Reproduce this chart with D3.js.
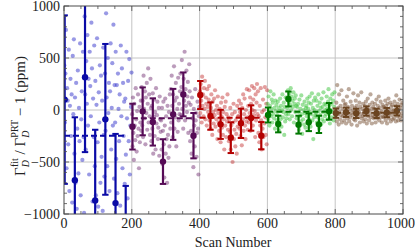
<!DOCTYPE html>
<html><head><meta charset="utf-8">
<script src="https://cdn.jsdelivr.net/npm/d3@7"></script>
<style>body{margin:0;background:#fff}svg{display:block}
text{font-family:"Liberation Serif","Times New Roman",Tinos,"DejaVu Serif",serif;}</style>
</head><body>
<script>
// ---------- data ----------
const groupStarts = [0, 200, 400, 600, 800];
const binOffsets = [2, 32, 62, 92, 122, 152, 182];
const xTicks = [0, 200, 400, 600, 800, 1000];
const yTicks = [-1000, -500, 0, 500, 1000];

const blueScatter = [430,-120,350,770,-560,210,90,-330,580,-780,40,300,-250,150,-890,520,-40,680,
 -420,120,-700,260,-950,-180,380,-610,20,-300,640,-820,-90,180,-480,560,-260,-990,
 900,150,-380,470,60,720,-150,300,-620,560,230,-60,840,400,-880,110,-260,620,
 -540,280,-820,50,690,-310,-930,170,-120,430,-700,330,-450,90,-970,600,-240,-640,
 350,-200,930,120,-540,500,-30,260,-780,180,640,-380,20,450,-150,820,-660,240,
 -120,560,-470,240,-800,350,10,-300,150,-920,620,-60,400,-560,260,-250,80,-710,
 110,-430,560,-80,-850,280,-300,490,-620,-150,30,360];
const purpleScatter = [-40,-350,120,-220,-480,60,-150,-290,210,-90,-400,-10,-250,150,-180,-560,30,-310,-120,90,-200,
 220,-150,90,-260,330,10,-80,180,-330,120,-30,260,-190,60,400,-120,150,-60,-240,300,20,
 -300,40,-180,160,-420,-60,100,-250,-20,-380,210,-130,-50,80,-280,-170,20,-440,130,-90,-210,
 -100,-380,20,-520,-200,80,-330,-650,-150,110,-420,-60,-280,-700,40,-240,-460,-20,-350,150,-180,
 200,-120,330,40,-260,150,-30,420,-180,90,-70,260,-350,120,10,-210,310,-100,60,-40,180,
 350,-50,220,480,10,150,-180,300,90,560,-100,200,40,380,-20,130,270,-220,70,440,180,
 -300,50,-200,-420,120,-80,-260,-550,10,-150,-350,200,-100,-30,-450,-220,80,-180,-620,-60,30];
const redScatter = [180,-30,250,90,-120,320,40,150,-60,210,10,280,-90,120,60,-150,200,30,-20,100,230,
 -100,60,-180,20,150,-70,-240,80,-20,-130,110,-50,190,-160,0,-90,40,-280,130,-30,-120,
 -200,10,-120,-310,70,-60,-170,120,-240,-20,-90,-380,30,-150,80,-260,-40,-110,150,-190,-70,
 -300,-90,-210,20,-380,-150,-250,-40,-500,-120,60,-280,-190,-20,-350,-100,-230,-420,40,-160,-60,
 -60,90,-180,-20,-250,60,-130,-340,20,-90,150,-200,-40,110,-150,-280,0,-110,200,-70,-190,
 40,-120,190,-30,120,-200,60,-80,230,0,-150,100,-50,210,-10,-260,150,-100,70,250,-40,
 180,-220,-60,-310,40,-150,210,-100,-380,-20,-180,100,-260,0,-130,220,-70,-240,60,-330,190];
const greenScatter = [60,-90,130,-20,-150,40,180,-60,10,100,-120,70,-40,150,-80,20,-180,90,-10,50,-100,
 -50,80,-130,20,-200,-10,110,-90,40,-160,0,150,-70,-20,70,-240,30,-110,120,-40,-80,
 120,20,190,-40,80,160,-90,50,210,0,130,-60,90,30,170,-120,60,110,-20,140,40,
 -80,30,-150,60,-20,-190,100,-60,10,-110,140,-40,-230,50,-90,0,-140,80,-30,-170,20,
 40,-60,110,-130,10,70,-90,130,-20,-160,60,-40,160,-100,20,-280,90,-70,0,120,-50,
 -30,90,-120,40,-70,150,-10,-180,70,-50,20,-140,110,-90,30,-20,170,-110,60,-60,0,
 50,-40,130,10,-90,80,200,-30,40,-130,110,0,-70,60,150,-20,90,-100,30,170,-50];
const brownScatter = [0,-70,70,-110,240,-40,20,-140,150,-20,-90,40,-50,190,-120,10,-60,90,-30,-100,50,
 -60,60,-130,-10,130,-80,30,-40,200,-110,10,-70,80,-30,-140,40,-50,0,160,-90,-20,
 20,-100,90,-50,40,-150,0,140,-70,-20,70,-120,30,-40,170,-80,10,-60,60,-110,-10,
 -40,40,-90,80,-20,-130,20,110,-60,0,-100,50,-30,150,-70,10,-130,70,-50,30,-80,
 10,-60,60,-120,0,100,-80,-20,40,-50,130,-100,20,-30,80,-70,-10,-120,50,-60,30,
 -70,20,-40,90,-100,40,-20,-130,60,-50,110,-80,0,-30,70,-110,30,-50,50,-90,-10,
 0,-80,80,-40,40,-110,140,-20,-60,60,-100,10,-40,100,-70,20,-100,50,-30,70,-60];

const blueMean  = [100,-675,315,-870,-90,-895,-1430];
const blueErr   = [810,605,720,680,725,665,700];
const purpleMean= [-160,-13,-115,-496,-42,150,-247];
const purpleErr = [220,230,227,215,245,211,218];
const redMean   = [144,-58,-138,-266,-128,-77,-247];
const redErr    = [135,132,140,148,141,122,131];
const greenMean = [-48,-135,106,-141,-118,-138,-13];
const greenErr  = [72,80,72,86,85,83,80];
const brownMean = [-30,-22,-32,-10,-32,-25,-8];
const brownErr  = [45,45,45,45,45,45,45];
const overallMean = [-247,-80,-74,-18,-26];

const groups = [
  {scatter: blueScatter,  mean: blueMean,  err: blueErr,  dot:"#3434cc", dotOp:0.5,  dark:"#0a0aa6"},
  {scatter: purpleScatter,mean: purpleMean,err: purpleErr,dot:"#7a3a7a", dotOp:0.5,  dark:"#560b56"},
  {scatter: redScatter,   mean: redMean,   err: redErr,   dot:"#c02828", dotOp:0.45, dark:"#b30000"},
  {scatter: greenScatter, mean: greenMean, err: greenErr, dot:"#3cc43c", dotOp:0.5,  dark:"#007800"},
  {scatter: brownScatter, mean: brownMean, err: brownErr, dot:"#7a5438", dotOp:0.5,  dark:"#6b4420"}
];

// ---------- layout ----------
const W = 415, H = 252;
const L = 64, R = 403, T = 6, B = 214;
const x = d3.scaleLinear().domain([0, 1000]).range([L, R]);
const y = d3.scaleLinear().domain([-1000, 1000]).range([B, T]);

const svg = d3.select("body").append("svg").attr("width", W).attr("height", H);
svg.append("defs").append("clipPath").attr("id","clip")
  .append("rect").attr("x",L).attr("y",T).attr("width",R-L).attr("height",B-T);

// grid
const grid = svg.append("g").attr("stroke","#c4c4c4").attr("stroke-width",1);
[200,400,600,800].forEach(v => grid.append("line").attr("x1",x(v)).attr("x2",x(v)).attr("y1",T).attr("y2",B));
[-500,0,500].forEach(v => grid.append("line").attr("y1",y(v)).attr("y2",y(v)).attr("x1",L).attr("x2",R));

const plot = svg.append("g").attr("clip-path","url(#clip)");

// scatter
groups.forEach((g, gi) => {
  const n = g.scatter.length;
  plot.append("g").selectAll("circle").data(g.scatter).join("circle")
    .attr("cx", (d,i) => x(groupStarts[gi] + (i + 0.5) * 200 / n))
    .attr("cy", d => y(d))
    .attr("r", 2.1)
    .attr("fill", g.dot).attr("fill-opacity", g.dotOp);
});

// dashed means
groups.forEach((g, gi) => {
  plot.append("line")
    .attr("x1", x(groupStarts[gi])).attr("x2", x(groupStarts[gi] + 186))
    .attr("y1", y(overallMean[gi])).attr("y2", y(overallMean[gi]))
    .attr("stroke", g.dark).attr("stroke-width", 2).attr("stroke-dasharray","6,3");
});

// error bars
groups.forEach((g, gi) => {
  const eg = plot.append("g").attr("stroke", g.dark).attr("fill", g.dark);
  g.mean.forEach((m, i) => {
    const cx = x(groupStarts[gi] + binOffsets[i]);
    const top = y(m + g.err[i]), bot = y(m - g.err[i]);
    eg.append("line").attr("x1",cx).attr("x2",cx).attr("y1",top).attr("y2",bot).attr("stroke-width",2.2);
    eg.append("line").attr("x1",cx-3.2).attr("x2",cx+3.2).attr("y1",top).attr("y2",top).attr("stroke-width",2);
    eg.append("line").attr("x1",cx-3.2).attr("x2",cx+3.2).attr("y1",bot).attr("y2",bot).attr("stroke-width",2);
    eg.append("circle").attr("cx",cx).attr("cy",y(m)).attr("r",3.2).attr("stroke","none");
  });
});

// frame and ticks
const axCol = "#4a4a4a";
svg.append("rect").attr("x",L).attr("y",T).attr("width",R-L).attr("height",B-T)
  .attr("fill","none").attr("stroke",axCol).attr("stroke-width",1);
const tk = svg.append("g").attr("stroke",axCol).attr("stroke-width",0.8);
d3.range(0, 1001, 50).forEach(v => {
  const len = v % 200 === 0 ? 5 : 3;
  tk.append("line").attr("x1",x(v)).attr("x2",x(v)).attr("y1",B).attr("y2",B-len);
  tk.append("line").attr("x1",x(v)).attr("x2",x(v)).attr("y1",T).attr("y2",T+len);
});
d3.range(-1000, 1001, 100).forEach(v => {
  const len = v % 500 === 0 ? 5 : 3;
  tk.append("line").attr("y1",y(v)).attr("y2",y(v)).attr("x1",L).attr("x2",L+len);
  tk.append("line").attr("y1",y(v)).attr("y2",y(v)).attr("x1",R).attr("x2",R-len);
});

// tick labels
const fmt = v => (v < 0 ? "\u2212" + Math.abs(v) : String(v));
svg.append("g").selectAll("text").data(xTicks).join("text")
  .attr("x", d => d === 1000 ? x(d) - 2 : x(d)).attr("y", B + 14)
  .attr("text-anchor","middle").attr("font-size",14).attr("fill","#222")
  .text(fmt);
svg.append("g").selectAll("text").data(yTicks).join("text")
  .attr("x", L - 4).attr("y", d => y(d) + 4.5)
  .attr("text-anchor","end").attr("font-size",14).attr("fill","#222")
  .text(fmt);

// axis titles
svg.append("text").attr("x", 233).attr("y", 247)
  .attr("text-anchor","middle").attr("font-size",14).attr("fill","#222")
  .text("Scan Number");

const yl = svg.append("text")
  .attr("transform","translate(25,116) rotate(-90)")
  .attr("text-anchor","middle").attr("font-size",15).attr("fill","#222");
yl.append("tspan").text("\u0393");
yl.append("tspan").attr("font-size",10).attr("font-style","italic").attr("dy",3.5).text("D");
yl.append("tspan").attr("font-size",10).attr("dx",-7).attr("dy",-10.5).text("fit");
yl.append("tspan").attr("dy",7).text(" / \u0393");
yl.append("tspan").attr("font-size",10).attr("font-style","italic").attr("dy",3.5).text("D");
yl.append("tspan").attr("font-size",10).attr("dx",-7).attr("dy",-10.5).text("PRT");
yl.append("tspan").attr("dy",7).text(" \u2212 1   (ppm)");
</script>
</body></html>
